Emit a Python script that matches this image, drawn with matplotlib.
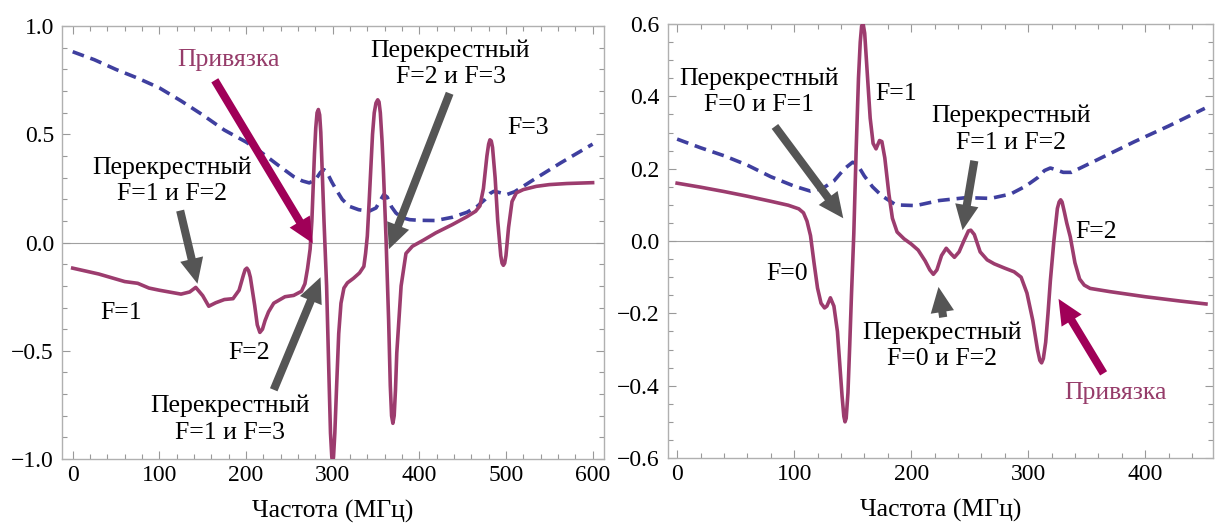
import matplotlib.pyplot as plt
from matplotlib.ticker import MultipleLocator

plt.rcParams['font.family'] = ['Liberation Serif', 'DejaVu Serif']

# left panel: solid (error signal) and dashed (absorption)
x1 = [0, 30, 60, 75, 88, 100, 125, 135, 142, 150, 157, 165, 175, 185, 192, 197, 199, 201,
      203, 205, 210, 213, 216, 219, 222, 226, 232, 245, 255, 264, 268, 271, 274, 276, 279,
      280.5, 282, 283.5, 285, 286.3, 287.5, 290, 293, 296, 297.5, 299, 300, 301, 302.5,
      304.6, 307, 309.6, 313, 317, 324, 331, 336, 338, 340, 342, 344, 346, 348, 350, 352,
      353.5, 355, 357, 358.5, 361.5, 364.6, 366.5, 368, 369.5, 371, 372.5, 374, 379, 384.6,
      392, 405, 419, 438, 455, 465, 470, 474, 478, 480, 481.5, 483, 484.5, 487.5, 490.5,
      494, 495.5, 497, 498.5, 500, 503, 507, 512, 520, 535, 550, 570, 600]
y1 = [-0.118, -0.145, -0.18, -0.188, -0.21, -0.22, -0.238, -0.228, -0.207, -0.245, -0.294,
      -0.278, -0.263, -0.259, -0.22, -0.15, -0.125, -0.118, -0.13, -0.16, -0.29, -0.38,
      -0.415, -0.40, -0.36, -0.32, -0.28, -0.25, -0.244, -0.225, -0.19, -0.12, -0.03, 0.10,
      0.41, 0.53, 0.60, 0.615, 0.59, 0.51, 0.38, 0.10, -0.2, -0.66, -0.88, -0.99, -1.02,
      -0.99, -0.88, -0.66, -0.42, -0.28, -0.21, -0.186, -0.165, -0.14, -0.11, -0.05, 0.03,
      0.18, 0.34, 0.5, 0.6, 0.645, 0.66, 0.65, 0.6, 0.47, 0.34, 0.03, -0.36, -0.66, -0.8,
      -0.835, -0.8, -0.68, -0.51, -0.2, -0.05, -0.017, 0.012, 0.045, 0.083, 0.12, 0.145,
      0.17, 0.25, 0.40, 0.455, 0.475, 0.47, 0.44, 0.30, 0.10, -0.06, -0.095, -0.105, -0.095,
      -0.06, 0.07, 0.19, 0.23, 0.245, 0.26, 0.268, 0.273, 0.277]
x1d = [0, 25, 50, 75, 100, 125, 150, 175, 200, 215, 238, 255, 265, 273, 280, 286, 290, 294,
       299, 304, 311, 319, 330, 342, 350, 355, 359, 363, 368, 373, 380, 389, 400, 419, 438,
       455, 467, 476, 482, 486, 492, 501, 510, 532, 563, 600]
y1d = [0.882, 0.845, 0.80, 0.76, 0.715, 0.655, 0.59, 0.52, 0.465, 0.425, 0.355, 0.305,
       0.285, 0.276, 0.29, 0.325, 0.337, 0.32, 0.28, 0.245, 0.2, 0.168, 0.152, 0.145, 0.16,
       0.195, 0.222, 0.21, 0.165, 0.137, 0.115, 0.106, 0.103, 0.102, 0.117, 0.14, 0.168,
       0.2, 0.228, 0.237, 0.232, 0.222, 0.235, 0.291, 0.368, 0.455]

# right panel
x2 = [0, 20, 40, 60, 80, 95, 104, 108, 111, 114, 117, 120, 123, 126, 128, 131, 134, 137,
      139, 141, 142.5, 143.5, 144.5, 146, 147.5, 149, 151, 153, 155, 156.5, 157.7, 159,
      160.3, 162, 165, 167.5, 170, 173, 175, 177.5, 181, 184, 188, 194, 200, 206, 212, 216,
      219, 222, 226, 230, 234, 237, 241, 245, 249, 251, 254, 259, 265, 271, 280, 288, 294,
      299, 304, 308, 310, 311.5, 313, 315, 317, 319, 322, 325, 326.5, 327.8, 329, 331, 333,
      336, 340, 344, 348, 353, 370, 400, 430, 452]
y2 = [0.16, 0.149, 0.137, 0.124, 0.11, 0.099, 0.089, 0.078, 0.055, 0.015, -0.06, -0.13,
      -0.172, -0.185, -0.18, -0.157, -0.18, -0.25, -0.34, -0.43, -0.485, -0.50, -0.49,
      -0.42, -0.29, -0.15, 0.02, 0.25, 0.45, 0.55, 0.595, 0.60, 0.575, 0.49, 0.34, 0.27,
      0.255, 0.278, 0.275, 0.23, 0.13, 0.063, 0.025, 0.006, -0.008, -0.025, -0.055, -0.08,
      -0.092, -0.08, -0.04, -0.02, -0.035, -0.045, -0.03, 0.0, 0.028, 0.03, 0.018, -0.03,
      -0.052, -0.063, -0.075, -0.085, -0.1, -0.144, -0.22, -0.30, -0.33, -0.337, -0.325,
      -0.28, -0.2, -0.11, 0.0, 0.09, 0.108, 0.114, 0.108, 0.08, 0.05, 0.012, -0.06, -0.105,
      -0.122, -0.131, -0.14, -0.154, -0.166, -0.174]
x2d = [0, 20, 40, 60, 80, 100, 114, 124, 134, 143, 150, 154, 160, 167, 175, 187, 204, 224,
       247, 268, 285, 298, 308, 314, 319, 324, 330, 337, 358, 391, 420, 451]
y2d = [0.282, 0.258, 0.236, 0.21, 0.178, 0.152, 0.138, 0.145, 0.166, 0.2, 0.218, 0.212,
       0.18, 0.15, 0.125, 0.10, 0.098, 0.112, 0.12, 0.118, 0.13, 0.152, 0.175, 0.195, 0.202,
       0.197, 0.19, 0.19, 0.223, 0.275, 0.318, 0.367]

line_col = '#9c3c6e'
dash_col = '#3f3f9f'
arrow_gray = '#555555'
arrow_purple = '#a00058'
text_purple = '#963c6a'
fs = 18.5

fig = plt.figure(figsize=(12.17, 5.24), dpi=100)
ax1 = fig.add_axes([0.0512, 0.124, 0.445, 0.826])
ax2 = fig.add_axes([0.5487, 0.126, 0.448, 0.828])


def style(ax, xmaj, xmin, ymaj, ymin):
    ax.xaxis.set_major_locator(MultipleLocator(xmaj))
    ax.xaxis.set_minor_locator(MultipleLocator(xmin))
    ax.yaxis.set_major_locator(MultipleLocator(ymaj))
    ax.yaxis.set_minor_locator(MultipleLocator(ymin))
    ax.tick_params(which='both', direction='in', top=True, right=True,
                   color='#999999', labelsize=17, width=0.8)
    ax.tick_params(which='major', length=6)
    ax.tick_params(which='minor', length=3.5)
    ax.tick_params(axis='y', pad=6)
    ax.tick_params(axis='x', pad=4)
    for s in ax.spines.values():
        s.set_color('#b0b0b0')
        s.set_linewidth(1.0)
    ax.axhline(0, color='#a0a0a0', lw=0.8, zorder=1)
    ax.set_xlabel('Частота (МГц)', fontsize=18.5, labelpad=10)


def arrow(ax, tail, tip, col):
    ax.annotate('', xy=tip, xytext=tail,
                arrowprops=dict(arrowstyle='simple,head_width=1.3,head_length=1.4,tail_width=0.45',
                                color=col, mutation_scale=13, shrinkA=0, shrinkB=0, lw=0),
                zorder=5)


def label(ax, x, y, s, **kw):
    ax.text(x, y, s, fontsize=fs, ha='center', va='center', linespacing=1.25, **kw)


# left
ax1.plot(x1d, y1d, color=dash_col, lw=2.6, dashes=(3.3, 1.9), zorder=3)
ax1.plot(x1, y1, color=line_col, lw=2.6, zorder=4)
ax1.set_xlim(-12, 613)
ax1.set_ylim(-1, 1)
style(ax1, 100, 20, 0.5, 0.1)

label(ax1, 180, 0.846, 'Привязка', color=text_purple)
arrow(ax1, (164, 0.75), (277, -0.003), arrow_purple)
label(ax1, 436, 0.828, 'Перекрестный\nF=2 и F=3')
arrow(ax1, (435, 0.69), (365, -0.03), arrow_gray)
label(ax1, 525, 0.528, 'F=3')
label(ax1, 115, 0.286, 'Перекрестный\nF=1 и F=2')
arrow(ax1, (124, 0.148), (144, -0.19), arrow_gray)
label(ax1, 56, -0.324, 'F=1')
label(ax1, 204, -0.512, 'F=2')
label(ax1, 181, -0.816, 'Перекрестный\nF=1 и F=3')
arrow(ax1, (232, -0.68), (286, -0.16), arrow_gray)

# right
ax2.plot(x2d, y2d, color=dash_col, lw=2.6, dashes=(3.3, 1.9), zorder=3)
ax2.plot(x2, y2, color=line_col, lw=2.6, zorder=4)
ax2.set_xlim(-8, 458)
ax2.set_ylim(-0.6, 0.6)
style(ax2, 100, 20, 0.2, 0.05)

label(ax2, 70, 0.413, 'Перекрестный\nF=0 и F=1')
arrow(ax2, (83.6, 0.317), (142, 0.063), arrow_gray)
label(ax2, 187, 0.406, 'F=1')
label(ax2, 285, 0.309, 'Перекрестный\nF=1 и F=2')
arrow(ax2, (254, 0.222), (244, 0.03), arrow_gray)
label(ax2, 358, 0.026, 'F=2')
label(ax2, 93.6, -0.092, 'F=0')
label(ax2, 226, -0.29, 'Перекрестный\nF=0 и F=2')
arrow(ax2, (227.4, -0.211), (223.4, -0.127), arrow_gray)
label(ax2, 374.6, -0.419, 'Привязка', color=text_purple)
arrow(ax2, (364.5, -0.366), (326, -0.16), arrow_purple)

fig.savefig('out.png', dpi=100)
